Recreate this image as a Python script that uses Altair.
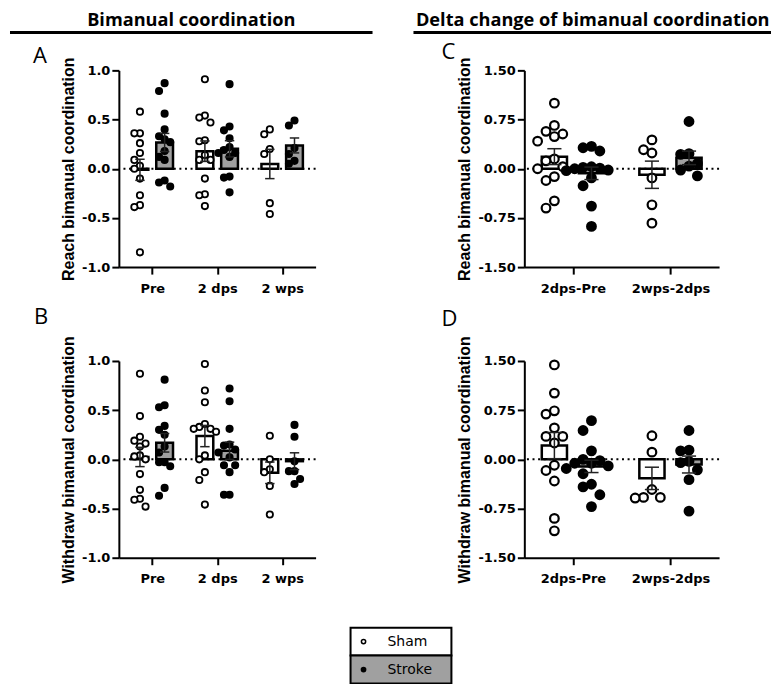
import json
import altair as alt
import pandas as pd

# ---------------- data ----------------
CATS_AB = ["Pre", "2 dps", "2 wps"]
CATS_CD = ["2dps-Pre", "2wps-2dps"]
GROUPS = ["Sham", "Stroke"]

# A: Reach bimanual coordination
A_PRE_SHAM = [0.58, 0.36, 0.36, 0.26, 0.16, 0.09, 0.03, 0.00, -0.10, -0.27, -0.37, -0.39, -0.85]
A_PRE_STROKE = [0.87, 0.79, 0.56, 0.40, 0.33, 0.30, 0.27, 0.18, 0.12, 0.09, -0.12, -0.14, -0.18]
A_2DPS_SHAM = [0.91, 0.54, 0.52, 0.47, 0.29, 0.28, 0.14, 0.09, 0.09, -0.10, -0.26, -0.27, -0.38]
A_2DPS_STROKE = [0.86, 0.43, 0.39, 0.31, 0.22, 0.19, 0.16, 0.16, 0.12, -0.08, -0.09, -0.24]
A_2WPS_SHAM = [0.40, 0.35, 0.20, 0.15, -0.35, -0.46]
A_2WPS_STROKE = [0.49, 0.44, 0.21, 0.15, 0.08, 0.05]

# B: Withdraw bimanual coordination
B_PRE_SHAM = [0.87, 0.44, 0.23, 0.19, 0.16, 0.13, 0.04, 0.03, 0.00, -0.15, -0.31, -0.40, -0.41, -0.48]
B_PRE_STROKE = [0.81, 0.55, 0.53, 0.34, 0.30, 0.25, 0.13, 0.07, -0.03, -0.03, -0.07, -0.29, -0.37]
B_2DPS_SHAM = [0.97, 0.70, 0.58, 0.36, 0.33, 0.31, 0.31, 0.28, 0.04, 0.00, -0.13, -0.21, -0.46]
B_2DPS_STROKE = [0.72, 0.59, 0.31, 0.15, 0.14, 0.10, 0.07, 0.02, -0.06, -0.06, -0.13, -0.36, -0.36]
B_2WPS_SHAM = [0.24, 0.00, -0.10, -0.13, -0.27, -0.56]
B_2WPS_STROKE = [0.35, 0.23, -0.02, -0.12, -0.12, -0.20, -0.25]

# C: Delta reach bimanual coordination
C_PRE_SHAM = [1.00, 0.66, 0.57, 0.53, 0.49, 0.42, 0.15, 0.12, 0.03, 0.00, -0.12, -0.18, -0.49, -0.60]
C_PRE_STROKE = [0.34, 0.32, 0.27, 0.03, 0.02, 0.01, 0.00, -0.02, -0.03, -0.14, -0.26, -0.57, -0.88]
C_2W_SHAM = [0.44, 0.29, 0.24, -0.14, -0.55, -0.83]
C_2W_STROKE = [0.72, 0.23, 0.22, 0.08, 0.04, -0.02, -0.11]

# D: Delta withdraw bimanual coordination
D_PRE_SHAM = [1.44, 1.01, 0.74, 0.69, 0.48, 0.35, 0.35, 0.25, -0.09, -0.17, -0.33, -0.90, -1.09]
D_PRE_STROKE = [0.59, 0.44, 0.13, 0.00, -0.02, -0.06, -0.06, -0.10, -0.14, -0.22, -0.38, -0.42, -0.54, -0.72]
D_2W_SHAM = [0.36, 0.11, -0.46, -0.58, -0.58, -0.59]
D_2W_STROKE = [0.44, 0.14, 0.13, -0.03, -0.05, -0.16, -0.31, -0.79]

A_VALUES = {("Pre", "Sham"): A_PRE_SHAM, ("Pre", "Stroke"): A_PRE_STROKE,
            ("2 dps", "Sham"): A_2DPS_SHAM, ("2 dps", "Stroke"): A_2DPS_STROKE,
            ("2 wps", "Sham"): A_2WPS_SHAM, ("2 wps", "Stroke"): A_2WPS_STROKE}
B_VALUES = {("Pre", "Sham"): B_PRE_SHAM, ("Pre", "Stroke"): B_PRE_STROKE,
            ("2 dps", "Sham"): B_2DPS_SHAM, ("2 dps", "Stroke"): B_2DPS_STROKE,
            ("2 wps", "Sham"): B_2WPS_SHAM, ("2 wps", "Stroke"): B_2WPS_STROKE}
C_VALUES = {("2dps-Pre", "Sham"): C_PRE_SHAM, ("2dps-Pre", "Stroke"): C_PRE_STROKE,
            ("2wps-2dps", "Sham"): C_2W_SHAM, ("2wps-2dps", "Stroke"): C_2W_STROKE}
D_VALUES = {("2dps-Pre", "Sham"): D_PRE_SHAM, ("2dps-Pre", "Stroke"): D_PRE_STROKE,
            ("2wps-2dps", "Sham"): D_2W_SHAM, ("2wps-2dps", "Stroke"): D_2W_STROKE}

# ---------------- styling / layout ----------------
GROUP_SHIFT = 0.19      # dodge of a group from the category centre (x units)
SLOT = 0.086            # swarm column spacing (x units)
BAR_FRAC = 0.245        # bar width (x units)
CAP_FRAC = 0.145        # error-bar cap width (x units)
BAR_GRAY = "#a0a0a0"
ERR_COLOR = "#222222"
LEFT_W, RIGHT_W, ROW_H = 197, 195, 197
COL_GAP = 209


def swarm(vals, px_per_unit, diam):
    """Deterministic beeswarm: returns a column slot for every value."""
    order = sorted(range(len(vals)), key=lambda i: -vals[i])
    slots = [0] * len(vals)
    placed = []
    for i in order:
        for s in (0, -1, 1, -2, 2, -3, 3):
            if all(ps != s or abs(vals[i] - pv) * px_per_unit >= diam for pv, ps in placed):
                slots[i] = s
                break
        placed.append((vals[i], slots[i]))
    return slots


def panel(values, cats, ydom, yticks, yfmt, ytitle, letter, width, height,
          margin, diam, psize, pstroke, letter_dx, letter_offset, letter_dy):
    n = len(cats)
    ppu_y = height / (ydom[1] - ydom[0])
    step = width / (n - 1 + 2 * margin)
    rows = []
    for ci, cat in enumerate(cats):
        for g, sign in (("Sham", -1), ("Stroke", 1)):
            v = values[(cat, g)]
            slots = swarm(v, ppu_y, diam)
            gx = ci + sign * GROUP_SHIFT
            for val, s in zip(v, slots):
                rows.append(dict(cat=cat, group=g, value=val, gx=gx, xj=gx + s * SLOT))
    df = pd.DataFrame(rows)

    xscale = alt.Scale(domain=[-margin, n - 1 + margin], nice=False, zero=False)
    xaxis = alt.Axis(values=list(range(n)), labelExpr=f"{json.dumps(cats)}[datum.value]",
                     title=None, grid=False)
    yscale = alt.Scale(domain=ydom, nice=False, zero=False)
    yaxis = alt.Axis(values=yticks, title=ytitle, grid=False,
                     labelExpr=f"replace(format(datum.value, '{yfmt}'), '\u2212', '-')")

    base = alt.Chart(df)
    agg = base.transform_aggregate(
        mean_v="mean(value)", sem="stderr(value)", groupby=["gx", "group"]
    ).transform_calculate(
        lo="datum.mean_v - datum.sem", hi="datum.mean_v + datum.sem",
        c0=f"datum.gx - {CAP_FRAC / 2}", c1=f"datum.gx + {CAP_FRAC / 2}",
        bf=f"datum.group == 'Sham' ? 'white' : '{BAR_GRAY}'",
    )

    zero = alt.Chart(alt.Data(values=[{"z": 0}])).mark_rule(
        color="black", strokeWidth=2, strokeDash=[2, 3.6]
    ).encode(y=alt.Y("z:Q", scale=yscale, axis=yaxis))

    bars = agg.mark_bar(width=BAR_FRAC * step, stroke="black", strokeWidth=2.5,
                        orient="vertical").encode(
        x=alt.X("gx:Q", scale=xscale, axis=xaxis),
        y=alt.Y("mean_v:Q", scale=yscale, axis=yaxis),
        fill=alt.Fill("bf:N", scale=None),
    )

    pts = base.transform_calculate(
        pf="datum.group == 'Sham' ? 'white' : 'black'"
    ).mark_point(shape="circle", filled=True, size=psize, stroke="black",
                 strokeWidth=pstroke, opacity=1).encode(
        x=alt.X("xj:Q", scale=xscale, axis=xaxis),
        y=alt.Y("value:Q", scale=yscale, axis=yaxis),
        fill=alt.Fill("pf:N", scale=None),
    )

    err = agg.mark_rule(color=ERR_COLOR, strokeWidth=1.5).encode(
        x=alt.X("gx:Q", scale=xscale, axis=xaxis),
        y=alt.Y("lo:Q", scale=yscale, axis=yaxis), y2="hi:Q")
    cap_lo = agg.mark_rule(color=ERR_COLOR, strokeWidth=1.5).encode(
        x=alt.X("c0:Q", scale=xscale, axis=xaxis), x2="c1:Q",
        y=alt.Y("lo:Q", scale=yscale, axis=yaxis))
    cap_hi = agg.mark_rule(color=ERR_COLOR, strokeWidth=1.5).encode(
        x=alt.X("c0:Q", scale=xscale, axis=xaxis), x2="c1:Q",
        y=alt.Y("hi:Q", scale=yscale, axis=yaxis))

    return alt.layer(zero, bars, pts, err, cap_lo, cap_hi).properties(
        width=width, height=height,
        title=alt.TitleParams(letter, anchor="start", frame="group", dx=letter_dx,
                              dy=letter_dy, offset=letter_offset, fontSize=22,
                              font="Open Sans", fontWeight="normal", color="black"),
    )


def header(text, width, text_x, line_x0, line_x1):
    src = alt.Chart(alt.Data(values=[{"h": 1}]))
    t = src.mark_text(text=text, font="Open Sans", fontWeight="bold", fontSize=18.2,
                      color="black", align="center", baseline="alphabetic").encode(
        x=alt.value(text_x), y=alt.value(-6))
    r = src.mark_rule(color="black", strokeWidth=3).encode(
        x=alt.value(line_x0), x2=alt.value(line_x1), y=alt.value(0))
    return alt.layer(t, r).properties(width=width, height=38)


def spacer(width, height):
    return alt.Chart(alt.Data(values=[{"s": 1}])).mark_point(opacity=0).encode(
        x=alt.value(0), y=alt.value(0)).properties(width=width, height=height)


A = panel(A_VALUES, CATS_AB, [-1, 1], [-1, -0.5, 0, 0.5, 1], ".1f",
          "Reach bimanual coordination", "A", LEFT_W, ROW_H, 0.438, 8, 40, 1.8, -86, 4, 15)
C = panel(C_VALUES, CATS_CD, [-1.5, 1.5], [-1.5, -0.75, 0, 0.75, 1.5], ".2f",
          "Reach bimanual coordination", "C", RIGHT_W, ROW_H, 0.447, 11, 75, 2.2, -83, 4, 11)
B = panel(B_VALUES, CATS_AB, [-1, 1], [-1, -0.5, 0, 0.5, 1], ".1f",
          "Withdraw bimanual coordination", "B", LEFT_W, ROW_H, 0.438, 8, 40, 1.8, -85, 31, 24)
D = panel(D_VALUES, CATS_CD, [-1.5, 1.5], [-1.5, -0.75, 0, 0.75, 1.5], ".2f",
          "Withdraw bimanual coordination", "D", RIGHT_W, ROW_H, 0.447, 11, 75, 2.2, -83, 26, 21)

HL = header("Bimanual coordination", LEFT_W, 72.5, -109, 254)
HR = header("Delta change of bimanual coordination", RIGHT_W, 68.5, -111, 247)

# custom legend box
leg_src = alt.Chart(alt.Data(values=[{"g": g} for g in GROUPS]))
ly = alt.Y("g:N", axis=None, scale=alt.Scale(domain=GROUPS, paddingInner=0, paddingOuter=0))
leg_rect = leg_src.transform_calculate(
    bf=f"datum.g == 'Sham' ? 'white' : '{BAR_GRAY}'"
).mark_rect(stroke="black", strokeWidth=2).encode(
    x=alt.value(232), x2=alt.value(333), y=ly, fill=alt.Fill("bf:N", scale=None))
leg_pt = leg_src.transform_calculate(
    pf="datum.g == 'Sham' ? 'white' : 'black'"
).mark_point(shape="circle", filled=True, size=18, stroke="black", strokeWidth=1.5,
             opacity=1).encode(x=alt.value(245), y=ly, fill=alt.Fill("pf:N", scale=None))
leg_txt = leg_src.mark_text(align="left", baseline="middle", font="DejaVu Sans",
                            fontSize=14, color="black").encode(
    x=alt.value(269), y=ly, text="g:N")
LEG = alt.layer(leg_rect, leg_pt, leg_txt).properties(width=LEFT_W, height=56)

chart = alt.concat(
    HL, HR,
    A, C,
    spacer(LEFT_W, 94), spacer(RIGHT_W, 94),
    B, D,
    spacer(LEFT_W, 70), spacer(RIGHT_W, 70),
    LEG, spacer(RIGHT_W, 56),
    columns=2, bounds="flush",
    spacing=alt.RowColnumber(row=0, column=COL_GAP),
).properties(
    padding={"top": 3, "left": 0, "right": 0, "bottom": 0}, background="white"
).configure_view(strokeWidth=0).configure_axis(
    domainColor="black", domainWidth=2, tickColor="black", tickWidth=2, tickSize=7,
    labelFont="DejaVu Sans", labelFontWeight="bold", labelFontSize=13, labelColor="black",
    titleFont="Liberation Sans", titleFontWeight="bold", titleFontSize=16,
    titleColor="black", titlePadding=5, grid=False,
).configure_axisX(labelPadding=8).configure_axisY(labelPadding=2)

chart.save("out.html", embed_options={"renderer": "svg", "actions": False})
